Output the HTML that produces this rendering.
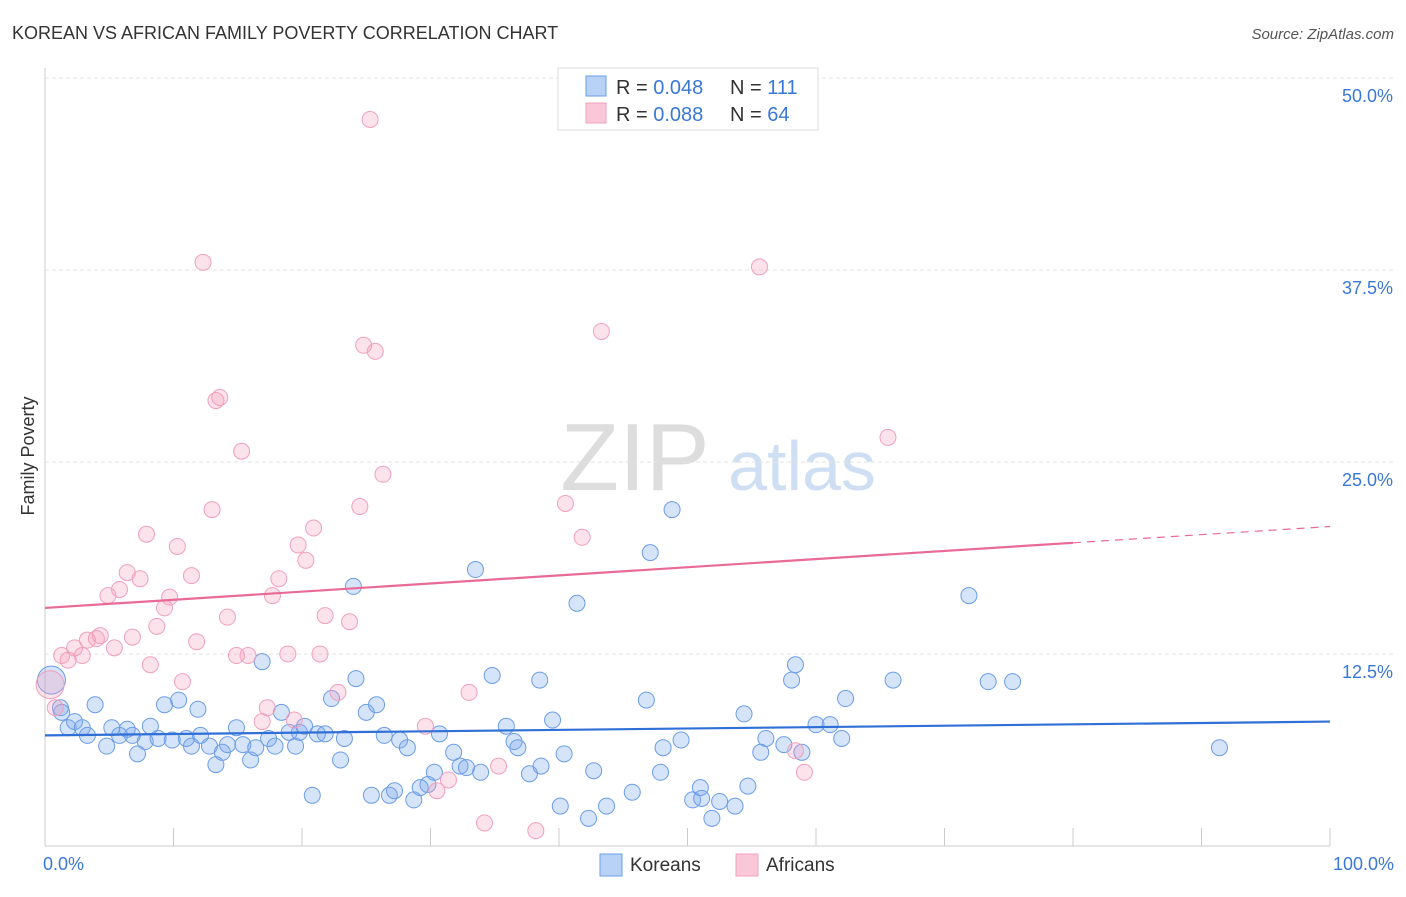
<!DOCTYPE html>
<html><head><meta charset="utf-8"><style>
body{margin:0;background:#fff;font-family:"Liberation Sans",sans-serif}
svg text{font-family:"Liberation Sans",sans-serif}
</style></head><body>
<svg id="c" width="1406" height="892">
<text x="12" y="39" font-size="18" fill="#333">KOREAN VS AFRICAN FAMILY POVERTY CORRELATION CHART</text>
<text x="1394" y="39" font-size="15" fill="#555" font-style="italic" text-anchor="end">Source: ZipAtlas.com</text>
<text transform="translate(34,456) rotate(-90)" font-size="18" fill="#333" text-anchor="middle">Family Poverty</text>
<g><text x="635" y="490" font-size="96" fill="#ddd" font-family="Liberation Serif" text-anchor="middle">ZIP</text><text x="802" y="490" font-size="70" fill="#cfdff3" text-anchor="middle">atlas</text></g>
<g id="grid"></g><g id="marks"></g>
<g>
<rect x="558" y="68" width="260" height="62" fill="#fff" stroke="#ddd"/>
<rect x="586" y="76" width="20" height="20" fill="#b8d2f5" stroke="#6b9de8"/>
<rect x="586" y="103" width="20" height="20" fill="#f9c7d7" stroke="#f0a0bc"/>
<text x="616" y="94" font-size="20" fill="#333">R = <tspan fill="#3a78d8">0.048</tspan></text>
<text x="730" y="94" font-size="20" fill="#333">N = <tspan fill="#3a78d8">111</tspan></text>
<text x="616" y="121" font-size="20" fill="#333">R = <tspan fill="#3a78d8">0.088</tspan></text>
<text x="730" y="121" font-size="20" fill="#333">N = <tspan fill="#3a78d8">64</tspan></text>
</g>
<g>
<rect x="600" y="854" width="22" height="22" fill="#b8d2f5" stroke="#6b9de8"/>
<text x="630" y="871" font-size="19" fill="#333">Koreans</text>
<rect x="736" y="854" width="22" height="22" fill="#f9c7d7" stroke="#f0a0bc"/>
<text x="766" y="871" font-size="19" fill="#333">Africans</text>
</g>
</svg>
<script>
const yTicks=[12.5,25,37.5,50];
const yTickLabels=["12.5%","25.0%","37.5%","50.0%"];
const xLabels=["0.0%","100.0%"];
const blueX=[0.5,1.2,1.3,1.8,2.3,2.9,3.3,3.9,4.8,5.2,5.8,6.4,6.8,7.2,7.8,8.2,8.8,9.3,9.9,10.4,11.0,11.4,11.9,12.1,12.8,13.3,13.8,14.2,14.9,15.4,16.0,16.4,16.9,17.4,17.9,18.4,19.0,19.5,19.8,20.2,20.8,21.2,21.8,22.3,23.0,23.3,24.0,24.2,25.0,25.4,25.8,26.4,26.8,27.2,27.6,28.2,28.7,29.2,29.8,30.3,30.7,31.8,32.3,32.8,33.5,33.9,34.8,35.9,36.5,36.8,37.7,38.5,38.6,39.5,40.1,40.4,41.4,42.3,42.7,43.7,45.7,46.8,47.1,47.9,48.1,48.8,49.5,50.4,51.0,51.1,51.9,52.5,53.7,54.4,54.7,55.7,56.1,57.5,58.1,58.4,58.9,60.0,61.1,62.0,62.3,66.0,71.9,73.4,75.3,91.4];
const blueY=[10.8,9.0,8.7,7.7,8.1,7.7,7.2,9.2,6.5,7.7,7.2,7.6,7.2,6.0,6.8,7.8,7.0,9.2,6.9,9.5,7.0,6.5,8.9,7.2,6.5,5.3,6.1,6.6,7.7,6.6,5.6,6.4,12.0,7.0,6.5,8.7,7.4,6.5,7.4,7.8,3.3,7.3,7.3,9.6,5.6,7.0,16.9,10.9,8.7,3.3,9.2,7.2,3.3,3.6,6.9,6.4,3.0,3.8,4.0,4.8,7.3,6.1,5.2,5.1,18.0,4.8,11.1,7.8,6.8,6.4,4.7,10.8,5.2,8.2,2.6,6.0,15.8,1.8,4.9,2.6,3.5,9.5,19.1,4.8,6.4,21.9,6.9,3.0,3.8,3.1,1.8,2.9,2.6,8.6,3.9,6.1,7.0,6.6,10.8,11.8,6.1,7.9,7.9,7.0,9.6,10.8,16.3,10.7,10.7,6.4];
const pinkX=[0.4,0.8,1.3,1.8,2.3,2.9,3.3,4.0,4.3,4.9,5.4,5.8,6.4,6.8,7.4,7.9,8.2,8.7,9.3,9.7,10.3,10.7,11.4,11.8,12.3,13.0,13.3,13.6,14.2,14.9,15.3,15.8,16.9,17.3,17.7,18.2,18.9,19.4,19.7,20.3,20.9,21.4,21.8,22.8,23.7,24.5,24.8,25.3,25.7,26.3,29.6,30.5,31.4,33.0,34.2,35.3,38.2,40.5,41.8,43.3,55.6,58.4,59.1,65.6];
const pinkY=[10.5,9.0,12.4,12.1,12.9,12.4,13.4,13.5,13.7,16.3,12.9,16.7,17.8,13.6,17.4,20.3,11.8,14.3,15.5,16.2,19.5,10.7,17.6,13.3,38.0,21.9,29.0,29.2,14.9,12.4,25.7,12.4,8.1,9.0,16.3,17.4,12.5,8.2,19.6,18.6,20.7,12.5,15.0,10.0,14.6,22.1,32.6,47.3,32.2,24.2,7.8,3.6,4.3,10.0,1.5,5.2,1.0,22.3,20.1,33.5,37.7,6.2,4.8,26.6];
const blueTrend=[7.2,8.1];
const pinkTrend=[15.5,20.8];
const pinkSolidEnd=80;
const NS="http://www.w3.org/2000/svg";
const X=v=>45+v/100*1285, Y=v=>846-v/12.5*192;
function mk(t,a,p){const e=document.createElementNS(NS,t);for(const k in a)e.setAttribute(k,a[k]);p.appendChild(e);return e;}
const g=document.getElementById('grid'),m=document.getElementById('marks');
yTicks.forEach((t,i)=>{
 const l=mk('line',{x1:45,x2:1395,y1:Y(t),y2:Y(t),stroke:'#e3e3e3','stroke-dasharray':'4,3'},g);
 
 
 const tx=mk('text',{x:1393,y:Y(t)+24,'font-size':18,fill:'#3a78d8','text-anchor':'end'},g);tx.textContent=yTickLabels[i];
 
 
});
mk('line',{x1:45,x2:45,y1:68,y2:846,stroke:'#ccc'},g);
mk('line',{x1:45,x2:1330,y1:846,y2:846,stroke:'#ccc'},g);
for(let i=0;i<=10;i++){const t=mk('line',{x1:X(i*10),x2:X(i*10),y1:828,y2:846,stroke:'#ccc'},g);
 
 }
[[0,'start'],[100,'end']].forEach((d,i)=>{const t=mk('text',{x:X(d[0])+(i?64:-2),y:870,'font-size':18,fill:'#3a78d8','text-anchor':d[1]},g);t.textContent=xLabels[i];
 
 });
function pts(xs,ys,fill,stroke,name){xs.forEach((x,i)=>{const c=mk('circle',{cx:X(x),cy:Y(ys[i]),r:i==0?14:8,fill:fill,stroke:stroke,'stroke-width':1},m);
 
 });}
pts(blueX,blueY,'rgba(120,165,235,0.3)','#6b9de8','korean-point');
pts(pinkX,pinkY,'rgba(245,160,190,0.3)','#f0a0bc','african-point');
const bt=mk('line',{x1:X(0),y1:Y(blueTrend[0]),x2:X(100),y2:Y(blueTrend[1]),stroke:'#2f6fd6','stroke-width':2.2},m);


const pe=pinkTrend[0]+(pinkTrend[1]-pinkTrend[0])*pinkSolidEnd/100;
const pt=mk('line',{x1:X(0),y1:Y(pinkTrend[0]),x2:X(pinkSolidEnd),y2:Y(pe),stroke:'#e86a95','stroke-width':2.2},m);


const pd=mk('line',{x1:X(pinkSolidEnd),y1:Y(pe),x2:X(100),y2:Y(pinkTrend[1]),stroke:'#e86a95','stroke-width':1.2,'stroke-dasharray':'8,6'},m);


</script>
</body></html>
